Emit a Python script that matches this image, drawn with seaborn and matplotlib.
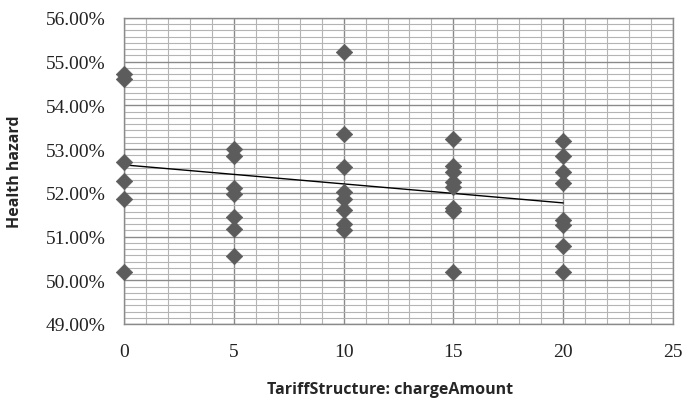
import numpy as np
import pandas as pd
import matplotlib
matplotlib.use("Agg")
import matplotlib.pyplot as plt
import seaborn as sns
from matplotlib.ticker import MultipleLocator, AutoMinorLocator, FuncFormatter

# Valores (chargeAmount -> Health hazard em %)
x_0 = [54.72, 54.60, 52.70, 52.26, 51.87, 50.19]
x_5 = [53.00, 52.85, 52.12, 51.98, 51.44, 51.17, 50.55]
x_10 = [55.23, 53.35, 52.60, 52.01, 51.86, 51.61, 51.29, 51.16]
x_15 = [53.23, 52.62, 52.47, 52.25, 52.13, 51.65, 51.58, 50.18]
x_20 = [53.19, 52.85, 52.48, 52.22, 51.37, 51.27, 50.79, 50.19]
charge_amounts = [0, 5, 10, 15, 20]

# Linha de tendência (extremos)
trend_x = [0, 20]
trend_y = [52.64, 51.77]

x_ticks = [0, 5, 10, 15, 20, 25]
y_ticks = [49, 50, 51, 52, 53, 54, 55, 56]

groups = [x_0, x_5, x_10, x_15, x_20]
df = pd.DataFrame({
    "charge": [c for c, g in zip(charge_amounts, groups) for _ in g],
    "hazard": [v for g in groups for v in g],
})

sns.set_style("white")

fig = plt.figure(figsize=(6.88, 4.10), dpi=100)
ax = fig.add_axes([124 / 688, 1 - 325 / 410, (673 - 124) / 688, (325 - 19) / 410])

# grade
ax.set_xlim(0, 25)
ax.set_ylim(49, 56)
ax.xaxis.set_major_locator(MultipleLocator(5))
ax.xaxis.set_minor_locator(MultipleLocator(1))
ax.yaxis.set_major_locator(MultipleLocator(1))
ax.yaxis.set_minor_locator(AutoMinorLocator(7))
ax.grid(which="major", color="#8a8a8a", linewidth=1.0)
ax.grid(which="minor", color="#b4b4b4", linewidth=0.8)
ax.set_axisbelow(True)

sns.lineplot(x=trend_x, y=trend_y, color="black", linewidth=1.0, ax=ax, zorder=3)
sns.scatterplot(data=df, x="charge", y="hazard", marker="D", s=70,
                color="#5c5c5c", edgecolor="#5c5c5c", linewidth=0.5,
                ax=ax, zorder=4, clip_on=False)

ax.set_xticks(x_ticks)
ax.set_yticks(y_ticks)
ax.yaxis.set_major_formatter(FuncFormatter(lambda v, p: f"{v:.2f}%"))
ax.tick_params(axis="both", which="major", direction="out", length=5,
               width=1, color="#8a8a8a", labelsize=14, labelcolor="#222222")
ax.tick_params(axis="x", which="major", pad=9)
ax.tick_params(axis="y", which="major", pad=8)
ax.tick_params(which="minor", length=0)
for lab in ax.get_xticklabels() + ax.get_yticklabels():
    lab.set_family("Liberation Serif")

for side in ["left", "bottom", "top", "right"]:
    ax.spines[side].set_color("#8a8a8a")
    ax.spines[side].set_linewidth(1.0)

ax.set_xlabel("TariffStructure: chargeAmount", fontsize=11.5, fontweight="bold",
              family="Open Sans")
ax.set_ylabel("Health hazard", fontsize=11.5, fontweight="bold",
              family="Open Sans")
ax.xaxis.set_label_coords(0.485, -(390 - 325) / 306, transform=ax.transAxes)
ax.yaxis.set_label_coords(-(124 - 15) / 549, 0.5, transform=ax.transAxes)
ax.xaxis.label.set_va("center")
ax.yaxis.label.set_va("center")

fig.savefig("out.png", dpi=100)
